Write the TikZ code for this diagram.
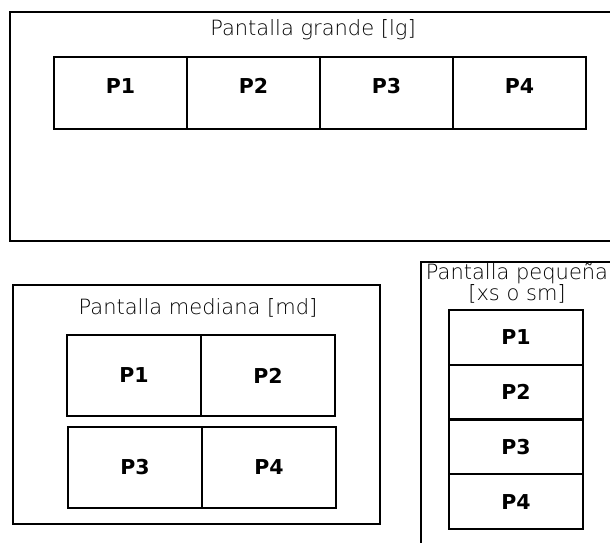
\documentclass[tikz,border=0pt]{standalone}
\usepackage{fontspec}
\setmainfont{DejaVu Sans}
\newfontfamily\titlefont{DejaVu Sans ExtraLight}
\usetikzlibrary{positioning}

\tikzset{
    screen/.style={draw, line width=2.3pt},
    pane/.style={draw, line width=2.3pt, inner sep=0pt, outer sep=0pt,
        font=\bfseries\fontsize{20.5}{20}\selectfont},
    title/.style={font=\titlefont\fontsize{21}{19}\selectfont, text=black,
        align=center, inner sep=0pt}
}

\begin{document}
\begin{tikzpicture}[x=1pt, y=-1pt]
    \useasboundingbox (0, 0) rectangle (610, 542);

    % pantalla grande
    \draw[screen] (10, 12) rectangle (625, 241);
    \node[title] (tlg) at (313, 30) {Pantalla grande [lg]};
    \foreach \i in {1, 2, 3, 4}
        {
            \node[pane, minimum width=133pt, minimum height=72pt, text depth=14pt]
                (lg\i) at (54+133*\i-66.5, 93) {P\i};
        }

    % pantalla mediana
    \draw[screen] (13, 285) rectangle (380, 524);
    \node[title] (tmd) at (198, 308) {Pantalla mediana [md]};
    \node[pane, minimum width=134pt, minimum height=81pt] (md1) at (134, 375.5) {P1};
    \node[pane, minimum width=134pt, minimum height=81pt, right=0pt of md1] (md2) {P2};
    \node[pane, minimum width=134pt, minimum height=81pt] (md3) at (135, 467.5) {P3};
    \node[pane, minimum width=134pt, minimum height=81pt, right=0pt of md3] (md4) {P4};

    % pantalla pequeña
    \draw[screen] (421, 262) rectangle (625, 560);
    \node[title] (tsm) at (517, 283) {Pantalla pequeña\\{[xs o sm]}};
    \foreach \i in {1, 2, 3, 4}
        {
            \node[pane, minimum width=134pt, minimum height=54.75pt]
                (sm\i) at (516, 310+54.75*\i-27.375) {P\i};
        }
\end{tikzpicture}
\end{document}
